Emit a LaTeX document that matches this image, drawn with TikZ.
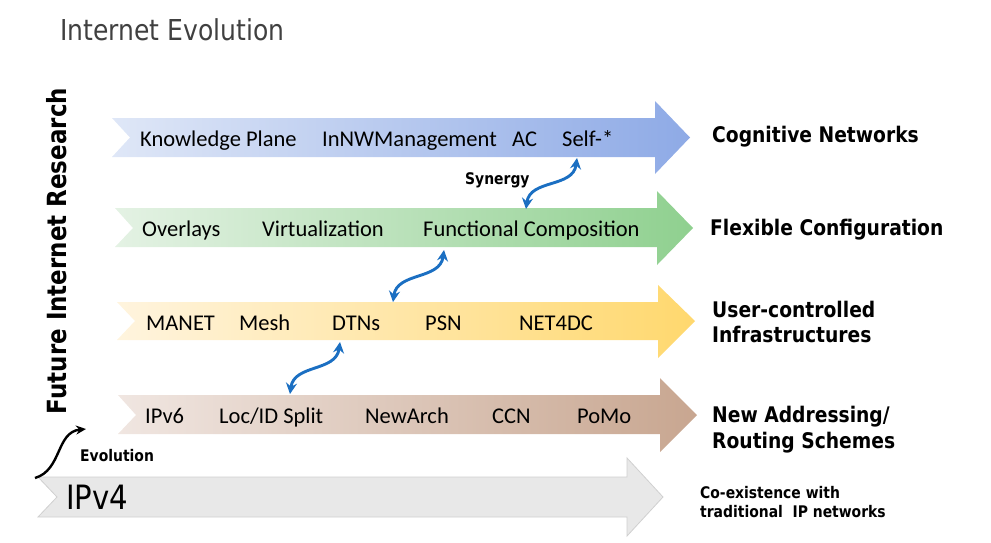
\documentclass[tikz,border=0pt]{standalone}
\usepackage{fontspec}
\usetikzlibrary{arrows.meta}
\newfontfamily\tahfont[FakeStretch=0.87]{DejaVu Sans}
\newfontfamily\calfont{Carlito}
\definecolor{blueL}{HTML}{DFE7F7}
\definecolor{blueR}{HTML}{8EAAE6}
\definecolor{greenL}{HTML}{E4F2E4}
\definecolor{greenR}{HTML}{8FD08F}
\definecolor{yelL}{HTML}{FFF4DE}
\definecolor{yelR}{HTML}{FFD86E}
\definecolor{brL}{HTML}{F0E6E1}
\definecolor{brR}{HTML}{C8A690}
\definecolor{grayF}{HTML}{E8E8E8}
\definecolor{grayB}{HTML}{D0D0D0}
\definecolor{synblue}{HTML}{1B6FC2}
\definecolor{titlegray}{HTML}{404040}
\begin{document}
\begin{tikzpicture}[x=1pt,y=-1pt,
  item/.style={anchor=base west,inner sep=0pt,font=\calfont\fontsize{22.5}{27}\selectfont},
  lab/.style={anchor=base west,inner sep=0pt,font=\tahfont\bfseries\fontsize{21.5}{26}\selectfont},
  small/.style={anchor=base west,inner sep=0pt,font=\tahfont\bfseries\fontsize{16}{19}\selectfont},
  syn/.style={draw=synblue,line width=2.9pt,{Stealth[length=11pt,width=11pt]}-{Stealth[length=11pt,width=11pt]}},
]
\useasboundingbox (0,0) rectangle (991,542);

% title
\node[anchor=base west,inner sep=0pt,text=titlegray,font=\tahfont\fontsize{28.8}{34}\selectfont] (title) at (60,40) {Internet Evolution};

% vertical label
\node[anchor=base,inner sep=0pt,rotate=90,font=\tahfont\bfseries\fontsize{26.4}{32}\selectfont] (fir) at (66,251) {Future Internet Research};

% arrows
\shade[left color=blueL,right color=blueR] (112,118) -- (655,118) -- (655,101) -- (690,137.5) -- (655,174) -- (655,157) -- (112,157) -- (130,137.5) -- cycle;
\shade[left color=greenL,right color=greenR] (115,208) -- (657,208) -- (657,191) -- (693,228) -- (657,265) -- (657,247) -- (115,247) -- (133,228) -- cycle;
\shade[left color=yelL,right color=yelR] (117,302) -- (658,302) -- (658,285) -- (695,321) -- (658,358) -- (658,340) -- (117,340) -- (135,321) -- cycle;
\shade[left color=brL,right color=brR] (118,395) -- (660,395) -- (660,378) -- (697,415) -- (660,452) -- (660,434) -- (118,434) -- (136,415) -- cycle;
\filldraw[fill=grayF,draw=grayB,line width=0.8pt] (38,477) -- (627,477) -- (627,458) -- (663,497) -- (627,536) -- (627,517) -- (38,517) -- (57,497) -- cycle;

% items
\node[item] (kp) at (140,146) {Knowledge Plane};
\node[item] (nwm) at (322,146) {InNWManagement};
\node[item] (ac) at (512,146) {AC};
\node[item] (self) at (562,146) {Self-*};

\node[item] (ovl) at (142,236) {Overlays};
\node[item] (virt) at (262,236) {Virtualization};
\node[item] (fc) at (423,236) {Functional Composition};

\node[item] (manet) at (146,330) {MANET};
\node[item] (mesh) at (239,330) {Mesh};
\node[item] (dtn) at (332,330) {DTNs};
\node[item] (psn) at (425,330) {PSN};
\node[item] (net4dc) at (519,330) {NET4DC};

\node[item] (ipv6) at (145,423) {IPv6};
\node[item] (locid) at (219,423) {Loc/ID Split};
\node[item] (newarch) at (365,423) {NewArch};
\node[item] (ccn) at (492,423) {CCN};
\node[item] (pomo) at (577,423) {PoMo};

\node[anchor=base west,inner sep=0pt,font=\tahfont\fontsize{33.5}{40}\selectfont] (ipv4) at (66,509) {IPv4};

% right labels
\node[lab] (cog) at (712,142) {Cognitive Networks};
\node[lab] (flex) at (710,235) {Flexible Configuration};
\node[lab] (uc1) at (712,317) {User-controlled};
\node[lab] (uc2) at (712,342) {Infrastructures};
\node[lab] (na1) at (712,422) {New Addressing/};
\node[lab] (na2) at (712,448) {Routing Schemes};
\node[small] (co1) at (700,498) {Co-existence with};
\node[small] (co2) at (700,517) {traditional\ \ IP networks};

\node[small] (syn) at (465,184) {Synergy};
\node[small] (evo) at (80,461) {Evolution};

% synergy connectors
\coordinate (s1a) at (526,209);
\coordinate (s1b) at (577,158);
\coordinate (s2a) at (393,302);
\coordinate (s2b) at (444,250);
\coordinate (s3a) at (290,394);
\coordinate (s3b) at (340,342);
\draw[syn] (s1a) .. controls (530,179) and (573,188) .. (s1b);
\draw[syn] (s2a) .. controls (397,272) and (440,280) .. (s2b);
\draw[syn] (s3a) .. controls (294,364) and (336,372) .. (s3b);

% evolution arrow
\coordinate (e1) at (35,478);
\coordinate (e2) at (86,429);
\draw[line width=2.4pt,-{Stealth[length=10pt,width=9pt]}] (e1) .. controls (62,470) and (56,432) .. (e2);
\end{tikzpicture}
\end{document}
